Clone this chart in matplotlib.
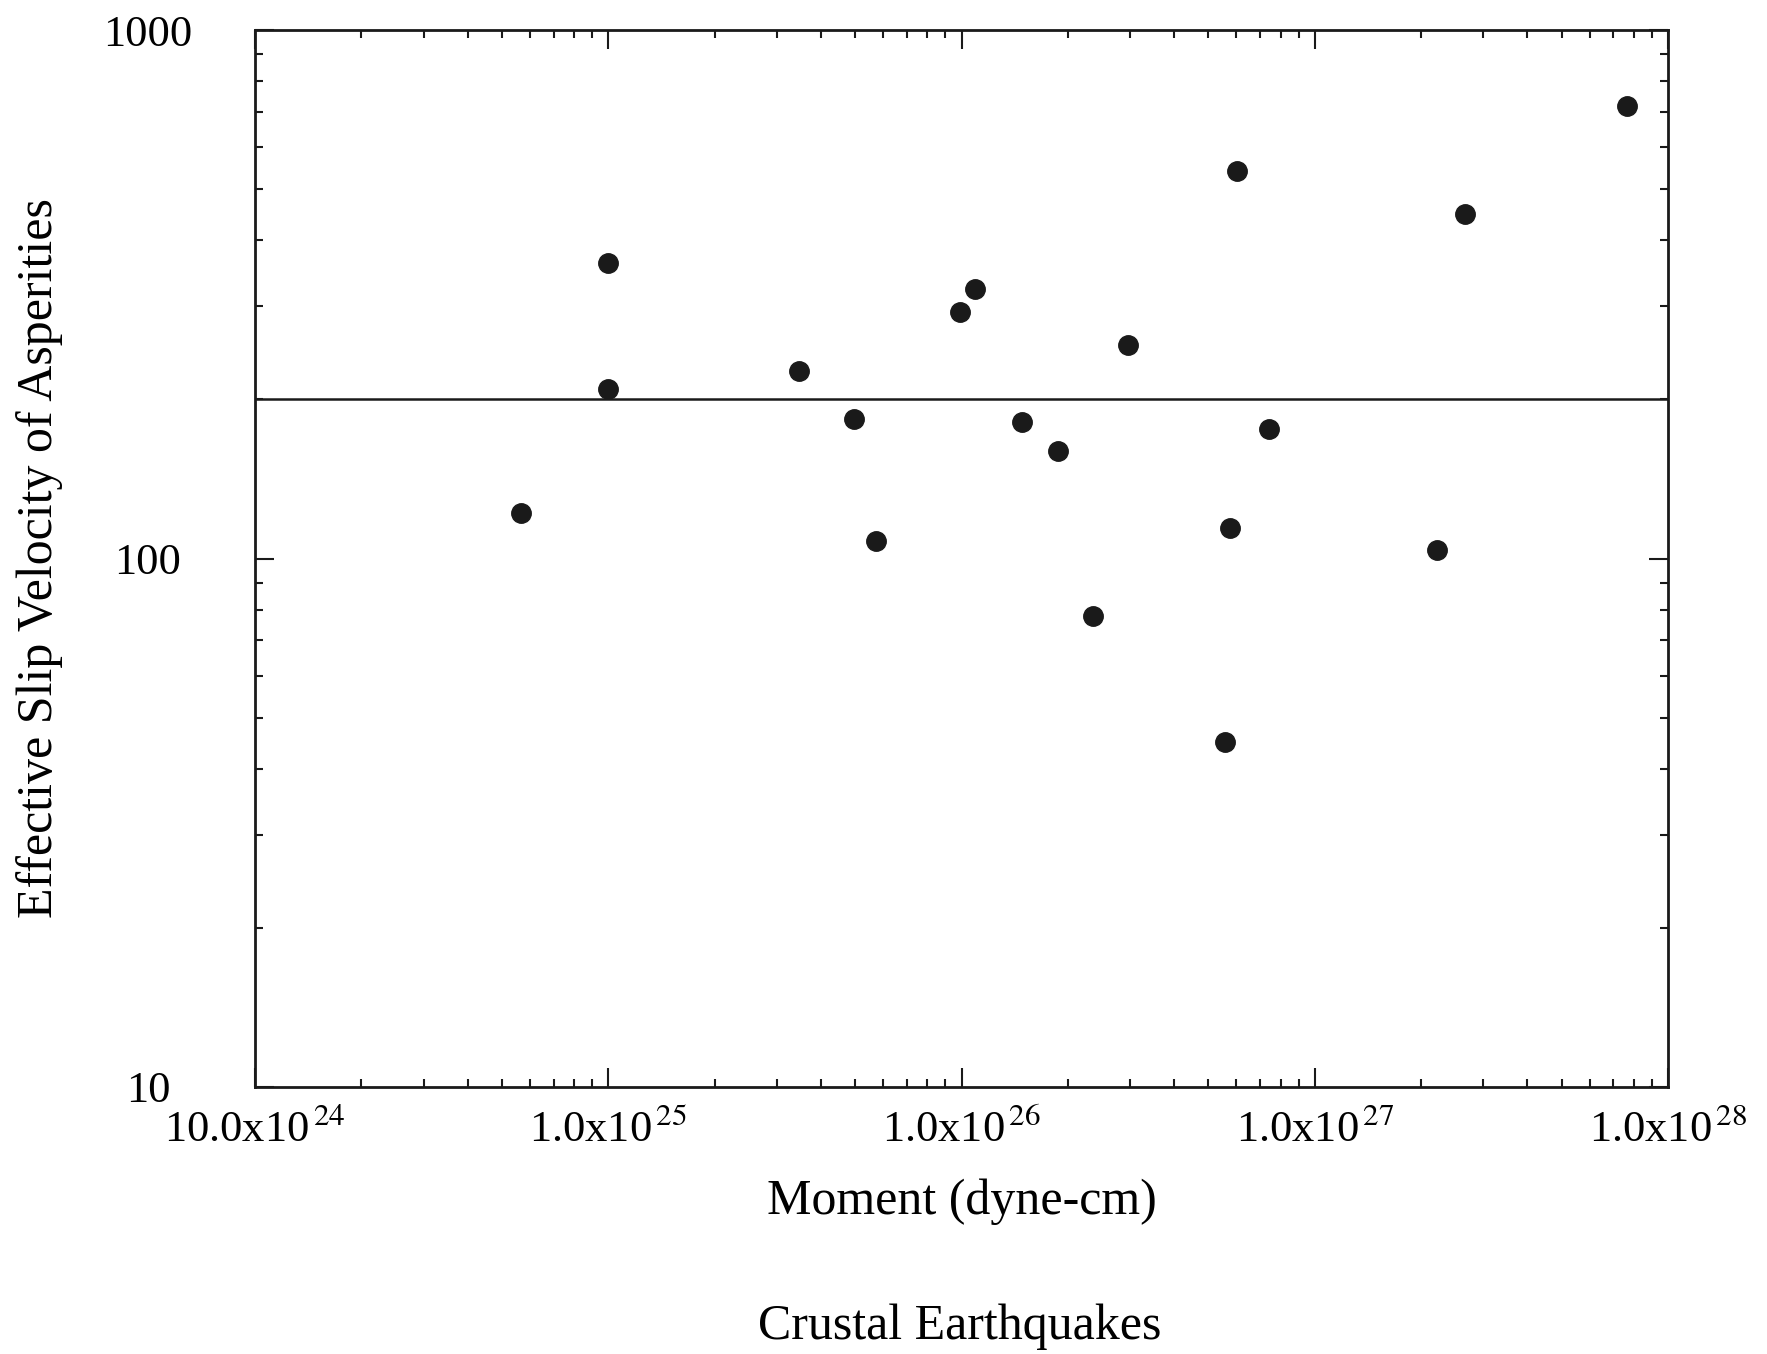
import matplotlib
matplotlib.use('Agg')
import matplotlib.pyplot as plt
from matplotlib.ticker import LogLocator, FixedLocator, NullFormatter

plt.rcParams['font.family'] = ['Liberation Serif', 'DejaVu Serif']
plt.rcParams['mathtext.fontset'] = 'stix'

# Moment (dyne-cm) and effective slip velocity
moment = [5.67e24, 1.0e25, 1.0e25, 3.46e25, 4.96e25, 5.74e25, 9.9e25, 1.09e26,
          1.48e26, 1.88e26, 2.36e26, 2.96e26, 5.56e26, 5.77e26, 6.04e26,
          7.41e26, 2.22e27, 2.66e27, 7.67e27]
slip_vel = [121.7, 362, 209, 226, 184, 108, 293, 324,
            181, 160, 77.8, 253, 44.9, 114, 541,
            176, 104, 449, 719]
ref_level = 200

x_ticks = [1e24, 1e25, 1e26, 1e27, 1e28]
x_tick_labels = [r'10.0x10$^{\,24}$', r'1.0x10$^{\,25}$', r'1.0x10$^{\,26}$',
                 r'1.0x10$^{\,27}$', r'1.0x10$^{\,28}$']
y_ticks = [10, 100, 1000]
y_tick_labels = ['10', '100', '1000']

fig = plt.figure(figsize=(17.67, 13.54), dpi=100)
ax = fig.add_axes([0.1443, 0.1972, 0.7997, 0.7806])
ax.set_xscale('log')
ax.set_yscale('log')

ax.plot(moment, slip_vel, 'o', color='#1a1a1a', markersize=14)
ax.axhline(ref_level, color='#1a1a1a', lw=1.8)

ax.set_xlim(1e24, 1e28)
ax.set_ylim(10, 1000)

ax.xaxis.set_major_locator(FixedLocator(x_ticks))
ax.set_xticklabels(x_tick_labels)
ax.xaxis.set_minor_locator(LogLocator(base=10, subs=range(2, 10), numticks=20))
ax.xaxis.set_minor_formatter(NullFormatter())
ax.yaxis.set_major_locator(FixedLocator(y_ticks))
ax.set_yticklabels(y_tick_labels)
ax.yaxis.set_minor_locator(LogLocator(base=10, subs=range(2, 10), numticks=20))
ax.yaxis.set_minor_formatter(NullFormatter())

ax.tick_params(which='both', direction='in', top=True, right=True, color='#1a1a1a')
ax.tick_params(which='major', length=14, width=1.5, labelsize=32)
ax.tick_params(which='minor', length=6, width=1.5)
ax.tick_params(axis='x', which='major', pad=16)
ax.tick_params(axis='y', which='major', pad=77)
for lbl in ax.get_yticklabels():
    lbl.set_horizontalalignment('center')
for s in ax.spines.values():
    s.set_linewidth(2)
    s.set_color('#1a1a1a')

ax.set_xlabel('Moment (dyne-cm)', fontsize=36, labelpad=20)
ax.set_ylabel('Effective Slip Velocity of Asperities', fontsize=36)
ax.yaxis.set_label_coords(-0.136, 0.5)
fig.text(0.543, 0.02, 'Crustal Earthquakes', fontsize=36, ha='center', va='center')

fig.savefig('out.png', dpi=100)
